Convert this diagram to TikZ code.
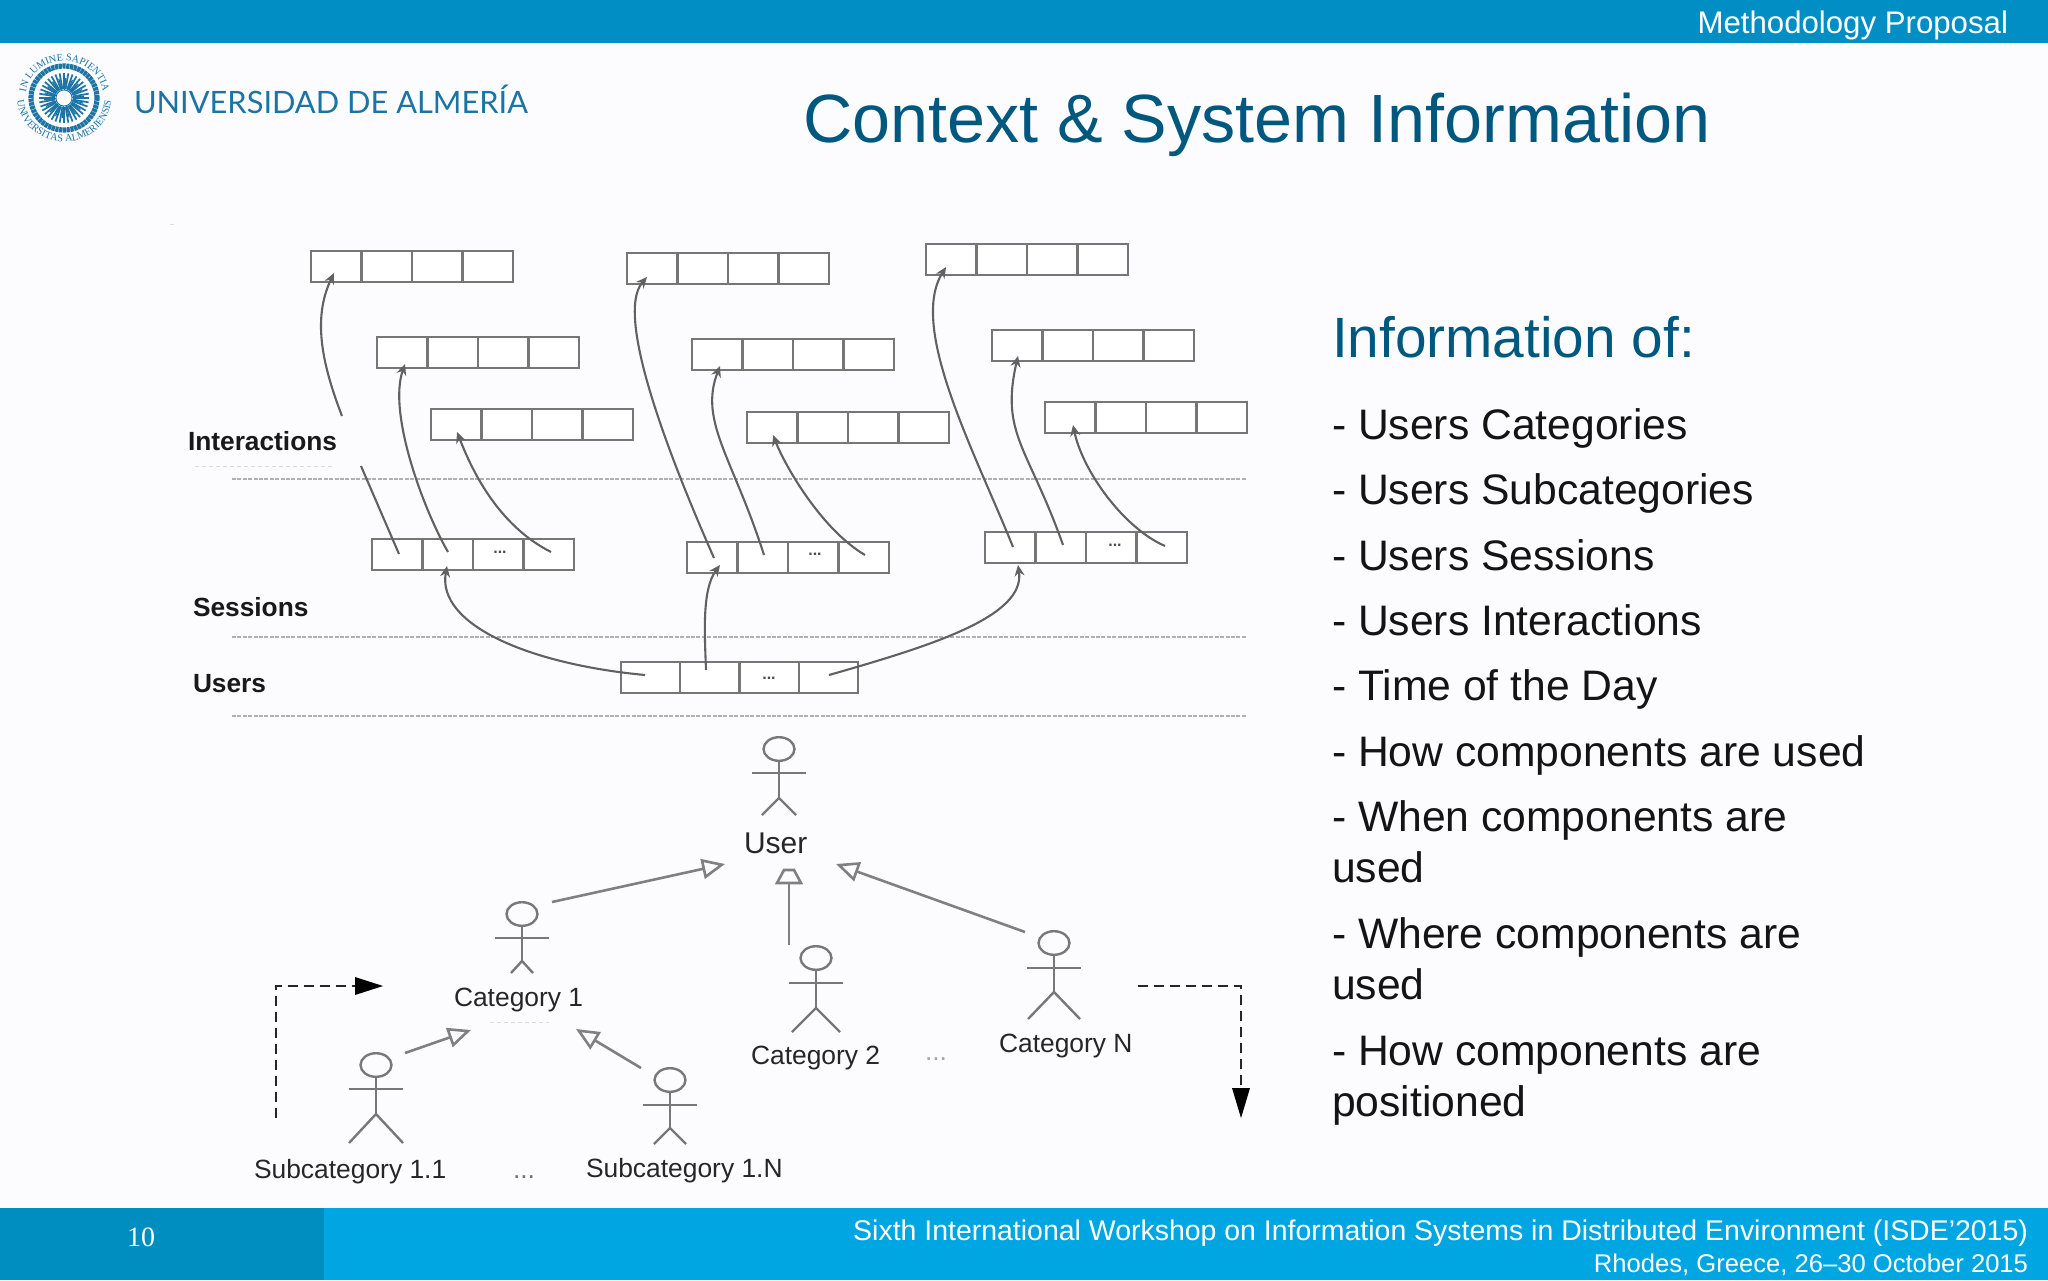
\documentclass[tikz,border=0pt]{standalone}
\usepackage{fontspec}
\setmainfont{Liberation Sans}
\newfontfamily\sealfam{Liberation Serif}
\newfontfamily\logofam{Lato}
\usetikzlibrary{arrows.meta,calc,shapes.geometric,decorations.text}
\definecolor{headblue}{HTML}{008EC4}
\definecolor{footblue}{HTML}{00A6E1}
\definecolor{footdark}{HTML}{008DC0}
\definecolor{titleblue}{HTML}{00587F}
\definecolor{logoblue}{HTML}{1C74A4}
\definecolor{boxgray}{HTML}{767676}
\definecolor{dotgray}{HTML}{B0B0B0}
\definecolor{stickgray}{HTML}{787878}
\newcommand{\fs}[1]{\fontsize{#1}{#1}\selectfont}
\newcommand{\sealtype}{\color{logoblue}\sealfam\fs{5.1}}
\tikzset{
  x=0.5pt,y=-0.5pt,
  txt/.style={inner sep=0pt,outer sep=0pt,anchor=base west},
  txtr/.style={inner sep=0pt,outer sep=0pt,anchor=base east},
  listitem/.style={txt,font=\fs{21.33},text=black!92},
  lane/.style={txt,font=\bfseries\fs{13.15},text=black!90},
  actorlabel/.style={txt,font=\fs{13.2},text=black!85},
  cellrow/.style={draw=boxgray,line width=1.2pt,inner sep=0pt,outer sep=0pt,anchor=north west,minimum height=15.5pt,minimum width=101pt,fill=white},
  userrow/.style={cellrow,minimum width=118.5pt},
  divider/.style={draw=boxgray,line width=1.2pt},
  celldots/.style={inner sep=0pt,anchor=base,font=\bfseries\fs{8},text=black!70},
  flowline/.style={draw=black!62,line width=1.05pt,-{Stealth[length=5.5pt,width=5pt]}},
  flowplain/.style={draw=black!62,line width=1.05pt},
  laneline/.style={draw=dotgray,line width=1.2pt,dash pattern=on 2pt off 0.7pt},
  stick/.style={draw=stickgray,line width=1.2pt},
  actorhead/.style={ellipse,draw=stickgray,line width=1.2pt,inner sep=0pt,outer sep=0pt,minimum width=15.5pt,minimum height=11.8pt},
  genline/.style={draw=black!50,line width=1.3pt,-{Triangle[open,length=11.5pt,width=10pt,line width=1.3pt]}},
  genplain/.style={draw=black!50,line width=1.3pt},
  dashflow/.style={draw=black!85,line width=1.3pt,dash pattern=on 5pt off 3pt},
  blacktip/.style={fill=black,draw=none},
  faint/.style={draw=black!14,line width=0.5pt,dash pattern=on 2pt off 1.5pt},
}
\newcommand{\cells}[3]{%
  \node[cellrow] (#1) at (#2,#3) {};
  \foreach \f in {0.25,0.5,0.75}
    \draw[divider] ($(#1.north west)!\f!(#1.north east)$) -- ($(#1.south west)!\f!(#1.south east)$);
}
\newcommand{\flowcurve}[4]{%
  \draw[flowline] (#1) .. controls ($-0.8333*(#1)+3*(#2)-1.5*(#3)+0.3333*(#4)$) and ($0.3333*(#1)-1.5*(#2)+3*(#3)-0.8333*(#4)$) .. (#4);
}
% name, body x, head y, shoulders y, arm half-width, hip y, foot y, leg half-width
\newcommand{\actor}[8]{%
  \node[actorhead] (#1) at (#2,#3) {};
  \coordinate (#1hip) at (#2,#6);
  \coordinate (#1armL) at ($(#2,#4)+(-#5,0)$);
  \coordinate (#1armR) at ($(#2,#4)+(#5,0)$);
  \coordinate (#1legL) at ($(#2,#7)+(-#8,0)$);
  \coordinate (#1legR) at ($(#2,#7)+(#8,0)$);
  \draw[stick] (#1.south) -- (#1hip);
  \draw[stick] (#1armL) -- (#1armR);
  \draw[stick] (#1legL) -- (#1hip) -- (#1legR);
}
\begin{document}
\begin{tikzpicture}
\useasboundingbox (0,0) rectangle (2048,1280);
\fill[white!99!blue] (0,0) rectangle (2048,1280);
% header and footer
\fill[headblue] (0,0) rectangle (2048,43);
\fill[footblue] (0,1208) rectangle (2048,1280);
\fill[footdark] (0,1208) rectangle (324,1280);
\node[txtr,font=\fs{15.6},text=white] (section) at (2008,33) {Methodology Proposal};
\node[txt,font=\sealfam\fs{14},text=white] (pagenum) at (127,1246) {10};
\node[txtr,font=\fs{14.23},text=white] (conf) at (2028,1240) {Sixth International Workshop on Information Systems in Distributed Environment (ISDE’2015)};
\node[txtr,font=\fs{12.8},text=white] (place) at (2028,1272) {Rhodes, Greece, 26–30 October 2015};
% logo
\begin{scope}[shift={(64,98)},x=0.5pt,y=0.5pt]
  \draw[logoblue,line width=2.6pt,dash pattern=on 1.6pt off 0.3pt] (0,0) ellipse [x radius=33,y radius=32];
  \foreach \a in {0,10,...,350}
    \draw[logoblue,line width=0.85pt] (\a:9) -- (\a:25);
  \foreach \a in {5,25,...,345}
    \draw[logoblue,line width=0.6pt] (\a:8) -- (\a:20);
  \draw[logoblue,line width=0.4pt,fill=white] (0,0) circle [radius=8];
  \path[decorate,decoration={text along path,text align=center,text={|\sealtype|IN LUMINE SAPIENTIA}}] (-38,-6) arc[start angle=190,end angle=-10,x radius=39,y radius=37];
  \path[decorate,decoration={text along path,text align=center,text={|\sealtype|UNIVERSITAS ALMERIENSIS}}] (-46,8) arc[start angle=170,end angle=370,x radius=47,y radius=44];
\end{scope}
\node[txt,font=\logofam\fs{15.4},text=logoblue] (uni) at (134,113) {UNIVERSIDAD DE ALMERÍA};
% titles
\node[txt,font=\fs{34.15},text=titleblue] (title) at (803,142) {Context \& System Information};
\node[txt,font=\fs{28.4},text=titleblue] (infoof) at (1332,357) {Information of:};
% list
\node[listitem] (l1) at (1332,439.5) {- Users Categories};
\node[listitem] (l2) at (1332,504.8) {- Users Subcategories};
\node[listitem] (l3) at (1332,570) {- Users Sessions};
\node[listitem] (l4) at (1332,635.4) {- Users Interactions};
\node[listitem] (l5) at (1332,700.7) {- Time of the Day};
\node[listitem] (l6) at (1332,766) {- How components are used};
\node[listitem] (l7) at (1332,831.3) {- When components are};
\node[listitem] (l7b) at (1332,882.2) {used};
\node[listitem] (l8) at (1332,948.8) {- Where components are};
\node[listitem] (l8b) at (1332,999.7) {used};
\node[listitem] (l9) at (1332,1065) {- How components are};
\node[listitem] (l9b) at (1332,1116) {positioned};
% lane lines and labels
\coordinate (la1) at (232,479); \coordinate (la2) at (1246,479);
\coordinate (lb1) at (232,637); \coordinate (lb2) at (1246,637);
\coordinate (lc1) at (232,716); \coordinate (lc2) at (1246,716);
\draw[laneline] (la1) -- (la2);
\draw[laneline] (lb1) -- (lb2);
\draw[laneline] (lc1) -- (lc2);
\node[lane] (interactions) at (188,450) {Interactions};
\node[lane] (sessions) at (193,616) {Sessions};
\node[lane] (users) at (193,692) {Users};
\coordinate (fa1) at (195,466); \coordinate (fa2) at (335,466);
\draw[faint] (fa1) -- (fa2);
\coordinate (fb1) at (490,1022); \coordinate (fb2) at (549,1022);
\draw[faint] (fb1) -- (fb2);
\coordinate (fc1) at (170,224); \coordinate (fc2) at (176,224);
\draw[faint] (fc1) -- (fc2);
% interaction rows
\cells{a1}{311}{251}
\cells{a2}{377}{337}
\cells{a3}{431}{409}
\cells{b1}{627}{253}
\cells{b2}{692}{339}
\cells{b3}{747}{412}
\cells{c1}{926}{244}
\cells{c2}{992}{330}
\cells{c3}{1045}{402}
% session rows
\cells{s1}{372}{539}
\cells{s2}{687}{542}
\cells{s3}{985}{532}
% user row
\node[userrow] (u) at (621,662) {};
\foreach \f in {0.25,0.5,0.75}
  \draw[divider] ($(u.north west)!\f!(u.north east)$) -- ($(u.south west)!\f!(u.south east)$);
\node[celldots] (d1) at (500,553) {...};
\node[celldots] (d2) at (815,555) {...};
\node[celldots] (d3) at (1115,546) {...};
\node[celldots] (d4) at (769,679) {...};
% flow arrows
\coordinate (a1cut) at (361,466);
\coordinate (a1cuttop) at (342,416);
\coordinate (s1c1) at (399,554);
\coordinate (s1c2) at (448,552);
\coordinate (s1c4) at (551,552);
\coordinate (s2c1) at (714,558);
\coordinate (s2c2) at (764,555);
\coordinate (s2c4) at (865,555);
\coordinate (s3c1) at (1013,547);
\coordinate (s3c2) at (1063,545);
\coordinate (s3c4) at (1165,546);
\coordinate (a1t) at (334,273);
\coordinate (a2t) at (405,364);
\coordinate (a3t) at (457,432);
\coordinate (b1t) at (647,277);
\coordinate (b2t) at (720,366);
\coordinate (b3t) at (773,435);
\coordinate (c1t) at (946,267);
\coordinate (c2t) at (1018,356);
\coordinate (c3t) at (1073,425);
\coordinate (s1t) at (447,566);
\coordinate (s2t) at (720,565);
\coordinate (s3t) at (1018,565);
\coordinate (u1) at (645,675);
\coordinate (u2) at (706,670);
\coordinate (u4) at (829,675);
\draw[flowplain] (s1c1) -- (a1cut);
\flowcurve{a1cuttop}{326,365}{322,318}{a1t}
\flowcurve{s1c2}{422,495}{403,425}{a2t}
\flowcurve{s1c4}{505,516}{475,472}{a3t}
\flowcurve{s2c1}{670,450}{640,345}{b1t}
\flowcurve{s2c2}{734,475}{715,418}{b2t}
\flowcurve{s2c4}{825,520}{793,475}{b3t}
\flowcurve{s3c1}{970,445}{938,345}{c1t}
\flowcurve{s3c2}{1032,470}{1014,418}{c2t}
\flowcurve{s3c4}{1125,517}{1092,473}{c3t}
\flowcurve{u1}{540,655}{468,618}{s1t}
\flowcurve{u2}{705,632}{708,595}{s2t}
\flowcurve{u4}{925,645}{995,610}{s3t}
% actors
\actor{auser}{779}{749}{773}{27}{798}{815}{17}
\actor{acat1}{522}{914}{938}{27}{961}{973}{11}
\actor{asub1}{376}{1065}{1089}{27}{1114}{1143}{27}
\actor{asubn}{670}{1080}{1105}{27}{1128}{1144}{16}
\actor{acat2}{816}{958}{983}{27}{1008}{1032}{24}
\actor{acatn}{1054}{943}{968}{27}{992}{1019}{26}
\node[actorlabel,font=\fs{15}] (luser) at (744,853) {User};
\node[actorlabel] (lcat1) at (454,1006) {Category 1};
\node[actorlabel] (lcat2) at (751,1064) {Category 2};
\node[actorlabel] (lcatn) at (999,1052) {Category N};
\node[actorlabel] (lsub1) at (254,1178) {Subcategory 1.1};
\node[actorlabel] (lsubn) at (586,1177) {Subcategory 1.N};
\node[actorlabel,anchor=base,text=black!55] (dots1) at (524,1178) {...};
\node[actorlabel,anchor=base,text=black!35] (dots2) at (936,1060) {...};
% generalisations
\coordinate (g1s) at (552,902); \coordinate (g1t) at (725,864);
\coordinate (g2s) at (789,945); \coordinate (g2t) at (789,883);
\coordinate (g3s) at (1025,932); \coordinate (g3t) at (836,864);
\coordinate (g4s) at (405,1053); \coordinate (g4t) at (471,1030);
\coordinate (g5s) at (641,1068); \coordinate (g5t) at (576,1029);
\draw[genline] (g1s) -- (g1t);
\draw[genline] (g3s) -- (g3t);
\draw[genline] (g4s) -- (g4t);
\draw[genline] (g5s) -- (g5t);
\draw[genplain] (g2s) -- (g2t);
\draw[genplain] (784,870) -- (777,883) -- (801,883) -- (794,870) -- cycle;
% dashed arrows
\coordinate (dl0) at (276,1118); \coordinate (dl1) at (276,986); \coordinate (dl2) at (356,986); \coordinate (dlt) at (383,986);
\coordinate (dr0) at (1138,986); \coordinate (dr1) at (1241,986); \coordinate (dr2) at (1241,1090); \coordinate (drt) at (1241,1118);
\draw[dashflow] (dl0) -- (dl1) -- (dl2);
\draw[dashflow] (dr0) -- (dr1) -- (dr2);
\fill[blacktip] (355,977) -- (383,986) -- (355,995) -- cycle;
\fill[blacktip] (1232,1088) -- (1241,1118) -- (1250,1088) -- cycle;
\end{tikzpicture}
\end{document}
